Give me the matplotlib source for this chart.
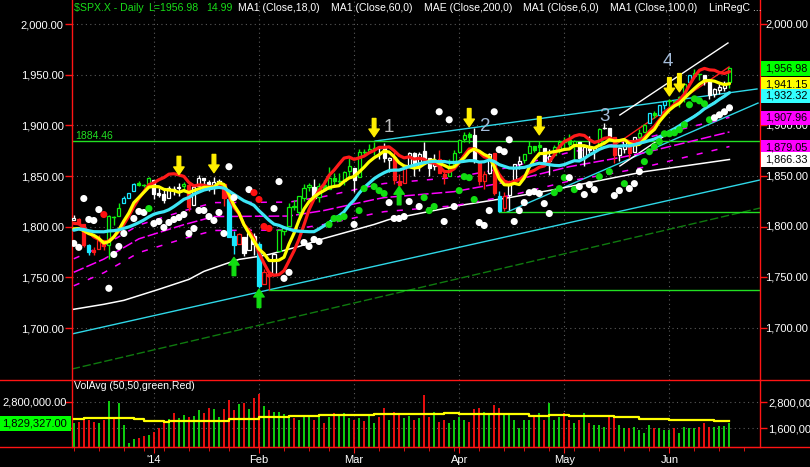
import numpy as np
import matplotlib
matplotlib.use("Agg")
import matplotlib.pyplot as plt
from matplotlib.patches import Rectangle
from matplotlib.lines import Line2D

plt.rcParams['font.family'] = ['Liberation Sans', 'DejaVu Sans']

W, H = 810, 467

# ---------------- data ----------------
# closes of the 17 sessions before the first visible bar (needed by the indicators)
history_close = [1782.00, 1790.62, 1798.18, 1791.53, 1787.87, 1781.37, 1795.85, 1804.76, 1802.48,
                 1802.75, 1807.23, 1805.81, 1800.90, 1795.15, 1792.81, 1785.03, 1805.09]

# daily bars Dec 9 2013 .. Jun 18 2014
opens = [1806.6, 1807.6, 1802.8, 1781.7, 1777.0, 1777.5, 1786.5, 1781.5, 1809.0, 1810.4,
         1822.9, 1828.0, 1835.0, 1843.0, 1841.5, 1842.6, 1845.9, 1833.2, 1832.3, 1828.7,
         1837.9, 1839.0, 1840.1, 1841.3, 1821.4, 1840.5, 1848.0, 1844.2, 1841.1, 1844.7,
         1842.3, 1827.0, 1791.0, 1783.0, 1790.2, 1777.2, 1790.9, 1782.7, 1743.8, 1753.4,
         1753.0, 1776.0, 1796.2, 1800.5, 1820.1, 1814.8, 1828.5, 1839.0, 1838.9, 1829.2,
         1841.1, 1836.8, 1847.7, 1845.8, 1844.9, 1855.1, 1857.7, 1849.2, 1874.1, 1874.2,
         1878.5, 1877.9, 1878.3, 1866.2, 1869.1, 1845.1, 1842.8, 1858.9, 1872.3, 1860.1,
         1874.5, 1867.7, 1859.5, 1867.1, 1852.1, 1850.1, 1859.2, 1874.0, 1886.6, 1891.4,
         1890.3, 1863.9, 1845.5, 1852.6, 1872.3, 1830.7, 1818.2, 1831.5, 1846.0, 1861.7,
         1865.8, 1872.6, 1879.3, 1881.0, 1877.7, 1865.0, 1870.8, 1877.1, 1884.4, 1885.3,
         1879.5, 1883.7, 1868.5, 1877.4, 1875.3, 1880.0, 1896.8, 1897.1, 1888.2, 1871.2,
         1876.7, 1884.9, 1873.3, 1888.2, 1893.3, 1902.0, 1911.8, 1910.6, 1920.3, 1923.9,
         1923.1, 1923.1, 1928.5, 1942.4, 1949.0, 1950.3, 1949.4, 1943.4, 1930.8, 1934.8,
         1937.2, 1942.7]
highs = [1811.5, 1808.5, 1803.0, 1783.0, 1780.0, 1792.2, 1786.8, 1811.1, 1810.9, 1823.8,
         1829.8, 1833.3, 1842.8, 1844.9, 1842.5, 1849.4, 1845.9, 1838.2, 1837.2, 1840.1,
         1840.0, 1843.2, 1843.8, 1843.5, 1839.3, 1850.8, 1848.0, 1846.0, 1849.3, 1846.9,
         1842.3, 1827.0, 1796.0, 1793.9, 1790.2, 1798.8, 1793.9, 1784.8, 1758.7, 1755.8,
         1774.1, 1798.0, 1799.9, 1823.5, 1826.6, 1830.3, 1841.7, 1842.9, 1847.5, 1842.8,
         1846.1, 1858.7, 1852.9, 1852.7, 1854.5, 1867.9, 1857.7, 1876.2, 1876.5, 1881.9,
         1883.6, 1877.9, 1882.4, 1868.4, 1874.4, 1852.4, 1862.3, 1873.8, 1874.1, 1873.5,
         1884.0, 1867.9, 1871.9, 1875.9, 1855.6, 1866.6, 1875.2, 1885.8, 1893.2, 1893.8,
         1897.3, 1864.0, 1855.0, 1872.4, 1872.5, 1835.1, 1834.2, 1844.0, 1862.3, 1869.6,
         1871.9, 1884.9, 1879.8, 1884.1, 1877.7, 1877.0, 1880.6, 1885.2, 1888.6, 1891.3,
         1885.5, 1883.7, 1878.8, 1889.1, 1878.6, 1897.1, 1902.2, 1897.1, 1888.2, 1878.3,
         1886.0, 1884.9, 1888.8, 1896.3, 1901.3, 1912.3, 1914.5, 1920.0, 1924.0, 1925.9,
         1925.1, 1928.6, 1941.7, 1949.4, 1955.6, 1950.9, 1949.4, 1943.4, 1937.3, 1941.2,
         1943.7, 1957.7]
lows = [1806.6, 1801.4, 1780.1, 1772.3, 1772.4, 1777.5, 1777.2, 1768.0, 1801.4, 1810.3,
        1822.9, 1828.0, 1835.0, 1839.8, 1838.8, 1842.4, 1827.7, 1829.1, 1823.7, 1828.7,
        1831.4, 1830.4, 1834.4, 1815.5, 1821.4, 1840.5, 1840.3, 1835.2, 1832.4, 1840.9,
        1820.1, 1790.3, 1772.9, 1783.0, 1771.0, 1777.2, 1772.3, 1739.7, 1743.8, 1737.9,
        1753.0, 1776.0, 1791.8, 1800.5, 1816.0, 1809.2, 1825.6, 1835.0, 1827.0, 1824.6,
        1835.6, 1836.8, 1840.2, 1840.7, 1841.1, 1847.7, 1834.4, 1849.2, 1871.6, 1874.2,
        1870.6, 1867.0, 1863.9, 1854.4, 1841.9, 1839.6, 1842.8, 1858.9, 1850.4, 1854.6,
        1863.5, 1849.7, 1856.0, 1852.6, 1842.1, 1850.1, 1859.2, 1874.0, 1883.8, 1882.7,
        1863.3, 1841.5, 1837.5, 1852.4, 1830.9, 1814.4, 1815.8, 1816.3, 1846.0, 1856.7,
        1863.2, 1872.6, 1873.9, 1870.2, 1859.7, 1850.6, 1870.8, 1872.7, 1878.0, 1878.5,
        1866.8, 1867.7, 1859.8, 1872.5, 1867.0, 1880.0, 1896.1, 1885.8, 1862.4, 1864.8,
        1872.4, 1868.1, 1873.3, 1885.4, 1893.3, 1902.0, 1907.3, 1909.8, 1916.6, 1916.0,
        1918.8, 1918.6, 1922.9, 1942.4, 1947.2, 1944.6, 1940.1, 1925.8, 1927.7, 1930.9,
        1933.6, 1937.2]
closes = [1808.37, 1802.62, 1782.22, 1775.50, 1775.32, 1786.54, 1781.00, 1810.65, 1809.60, 1818.32,
          1827.99, 1833.32, 1842.02, 1841.40, 1841.07, 1848.36, 1831.98, 1831.37, 1826.77, 1837.88,
          1837.49, 1838.13, 1842.37, 1819.20, 1838.88, 1848.38, 1845.89, 1838.70, 1843.80, 1844.86,
          1828.46, 1790.29, 1781.56, 1792.50, 1774.20, 1794.19, 1782.59, 1741.89, 1755.20, 1751.64,
          1773.43, 1797.02, 1799.84, 1819.75, 1819.26, 1829.83, 1838.63, 1840.76, 1828.75, 1839.78,
          1836.25, 1847.61, 1845.12, 1845.16, 1854.29, 1859.45, 1845.73, 1873.91, 1873.81, 1877.03,
          1878.04, 1877.17, 1867.63, 1868.20, 1846.34, 1841.13, 1858.83, 1872.25, 1860.77, 1872.01,
          1866.52, 1857.44, 1865.62, 1852.56, 1849.04, 1857.62, 1872.34, 1885.52, 1890.90, 1888.77,
          1865.09, 1845.04, 1851.96, 1872.18, 1833.08, 1815.69, 1830.61, 1842.98, 1862.31, 1864.85,
          1871.89, 1879.55, 1875.39, 1878.61, 1863.40, 1869.43, 1878.33, 1883.95, 1883.68, 1881.14,
          1884.66, 1867.72, 1878.21, 1875.63, 1878.48, 1896.65, 1897.45, 1888.53, 1870.85, 1877.86,
          1885.08, 1872.83, 1888.03, 1892.49, 1900.53, 1911.91, 1909.78, 1920.03, 1923.57, 1924.97,
          1924.24, 1927.88, 1940.46, 1949.44, 1951.27, 1950.79, 1943.89, 1930.11, 1936.16, 1937.78,
          1941.99, 1956.98]
# bar colour state as painted by the platform: g=green, r=red, w=white, c=cyan
bar_state = ("wrrcrrrgggcccggg"
             "wwwwwwgrwwwwwwrccrwww"
             "crrwgggggggwggggggg"
             "wggggwwwrrrwwwwwwrrgg"
             "gggwrrwrcrwwwggggwwgg"
             "gggwwwwgwwrwwrwggcgcc"
             "ggggcggwwwwwg")

volume_millions = [1.86, 1.91, 1.98, 1.98, 1.91, 1.86, 1.98, 2.86, 2.01, 2.78,
                   1.75, 0.91, 1.11, 1.14, 1.26, 1.29, 1.45, 1.60, 1.91, 2.01,
                   2.29, 2.09, 2.21, 2.14, 2.17, 2.45, 2.29, 2.52, 2.48, 2.14,
                   2.48, 2.91, 2.45, 2.71, 2.78, 2.48, 2.98, 3.18, 2.63, 2.45,
                   2.37, 2.37, 2.25, 2.14, 2.06, 1.98, 2.11, 2.14, 1.98, 2.21,
                   1.83, 2.14, 2.29, 2.17, 2.32, 2.06, 1.98, 2.06, 1.95, 2.21,
                   1.83, 2.14, 2.52, 1.98, 2.37, 2.29, 2.06, 2.17, 1.98, 2.06,
                   3.14, 2.14, 2.37, 1.91, 1.98, 1.83, 1.98, 2.14, 1.98, 1.91,
                   2.48, 2.52, 2.37, 2.21, 2.67, 2.52, 2.32, 2.25, 1.98, 1.60,
                   1.98, 1.98, 2.14, 2.29, 1.98, 2.75, 1.98, 2.14, 2.29, 1.98,
                   1.83, 1.98, 2.29, 1.83, 1.75, 1.75, 1.67, 2.14, 2.14, 1.75,
                   1.60, 1.60, 1.67, 1.52, 1.37, 1.75, 1.60, 1.60, 1.52, 1.52,
                   1.60, 1.37, 1.67, 1.60, 1.60, 1.67, 1.83, 1.67, 1.67, 1.71,
                   1.71, 1.83]
volavg_bar = [0, 2, 11, 12, 14, 18, 19, 31, 37, 43, 49, 60, 64, 74, 77, 91, 95, 99, 108, 113, 119, 128, 131]
volavg_millions = [2.03, 2.06, 2.06, 2.01, 1.95, 1.91, 1.95, 2.01, 2.11, 2.17, 2.20, 2.25, 2.28,
                   2.31, 2.28, 2.18, 2.21, 2.15, 2.11, 2.05, 1.98, 1.92, 1.92]
last_volume_label = 1829327.00

# slow lines
ma100_bar = [0, 6, 10, 17, 23, 26, 30, 33, 37, 39, 45, 50, 60, 63, 77, 87, 96, 104, 114, 131]
ma100_val = [1718.5, 1723.4, 1727.3, 1738.2, 1748.0, 1755.9, 1762.8, 1767.7, 1770.7, 1772.6,
             1780.5, 1788.4, 1802.2, 1807.1, 1820.9, 1828.7, 1836.6, 1844.5, 1854.3, 1866.3]
env_bar = [0, 6, 13, 22, 28, 43, 50, 60, 62, 76, 87, 99, 109, 114, 131]
env_mid = [1755.0, 1768.0, 1788.0, 1802.0, 1810.0, 1810.5, 1816.0, 1826.8, 1828.7, 1834.6,
           1844.5, 1859.2, 1868.1, 1873.0, 1893.5]
env_pct = 0.0076

# indicator dots
dot_bar = [0, 1, 2, 3, 4, 5, 6, 7, 8, 9, 10, 12, 13, 14, 15, 16, 17, 18, 19, 20, 21, 22, 23, 24, 25,
           26, 27, 28, 29, 30, 31, 32, 35, 36, 37, 38, 39, 40, 41, 42, 43, 46, 47, 48, 49, 51, 52, 53,
           54, 56, 57, 58, 60, 61, 62, 63, 64, 65, 66, 67, 69, 70, 71, 72, 73, 74, 75, 76, 77, 78, 79,
           80, 81, 82, 83, 84, 85, 86, 87, 88, 89, 90, 91, 92, 93, 94, 95, 96, 97, 98, 99, 100, 101,
           102, 103, 104, 105, 107, 108, 109, 110, 111, 112, 113, 114, 115, 116, 117, 118, 119, 120,
           121, 122, 123, 124, 125, 126, 127, 128, 129, 130, 131]
dot_val = [1783.5, 1779.6, 1827.8, 1807.1, 1806.1, 1816.9, 1812.0, 1739.2, 1772.6, 1780.5, 1793.3,
           1808.1, 1815.0, 1814.0, 1817.9, 1803.1, 1805.1, 1799.2, 1804.1, 1807.1, 1809.0, 1812.0,
           1793.3, 1798.2, 1816.0, 1816.0, 1810.0, 1806.1, 1814.0, 1793.3, 1859.2, 1828.7, 1836.6,
           1833.6, 1826.8, 1800.2, 1798.2, 1817.9, 1844.5, 1749.0, 1754.9, 1784.4, 1780.5, 1787.4,
           1785.4, 1802.2, 1808.1, 1808.1, 1810.0, 1802.2, 1815.9, 1837.6, 1839.6, 1835.6, 1832.7,
           1823.8, 1808.1, 1808.1, 1810.0, 1824.8, 1819.9, 1828.7, 1815.9, 1819.9, 1913.4, 1805.1,
           1905.5, 1819.9, 1835.6, 1849.4, 1848.4, 1826.8, 1804.1, 1801.2, 1815.9, 1913.4, 1876.0,
           1874.0, 1885.8, 1805.1, 1815.9, 1823.8, 1833.6, 1834.6, 1832.7, 1822.8, 1813.0, 1833.6,
           1837.6, 1848.4, 1848.4, 1836.6, 1839.6, 1831.7, 1841.5, 1836.6, 1849.4, 1854.3, 1830.7,
           1835.6, 1842.5, 1837.6, 1842.5, 1854.3, 1864.2, 1874.0, 1878.9, 1883.9, 1891.7, 1891.7,
           1892.7, 1895.7, 1900.6, 1920.3, 1926.2, 1924.2, 1921.3, 1905.5, 1907.5, 1910.4, 1913.4,
           1917.3]
dot_kind = ("wwwwwwrwwww" "www" "g" "wwwwwwwwwwwwwwwww" "w" "rrrr" "wwww" "wwww" "gggg"
            "w" "gg" "ggg" "wwwww" "w" "ggg" "wwww" "gggg" "wwwwwwwwwwwwwww" "ggg" "w" "g"
            "wwww" "g" "g" "ww" "g" "www" "gggggggggggggg" "wwww")

# signal arrows (bar, tip price)
down_arrows = [(21, 1851.4), (28, 1853.3), (60, 1888.8), (79, 1898.6), (93, 1890.7), (119, 1929.1), (121, 1933.1)]
up_arrows = [(32, 1769.7), (37, 1738.2), (65, 1839.6)]
wave_labels = [("1", 62.9, 1897.6, '#bdbdbd'), ("2", 82.2, 1899.3, '#a4bcd9'),
               ("3", 106.1, 1909.0, '#a4bcd9'), ("4", 118.7, 1963.0, '#a4bcd9')]

# drawn trend lines: (bar0, price0, bar1, price1, colour, style)
trend_lines = [(60.2, 1884.5, 136.5, 1935.9, '#2fd8e8', '-'),
               (86.6, 1814.5, 136.7, 1922.0, '#2fd8e8', '-'),
               (-0.4, 1694.1, 137.1, 1846.1, '#2fd8e8', '-'),
               (-0.4, 1659.5, 137.1, 1818.4, '#0f7a0f', (0, (6, 2))),
               (109.1, 1910.2, 130.7, 1981.3, '#ffffff', '-'),
               (109.1, 1859.9, 130.7, 1931.9, '#ffffff', '-'),
               (108.1, 1880.6, 130.9, 1957.6, '#ff2020', '-')]
h_lines = [(-0.4, 1884.46), (39, 1737.9), (85, 1814.4)]

month_labels = ["'14", "Feb", "Mar", "Apr", "May", "Jun"]
month_bar = [16, 37, 56, 77, 98, 119]
week_bar = [0, 5, 10, 14, 18, 23, 27, 31, 37, 42, 47, 51, 56, 61, 66, 71, 76, 81, 86, 90, 95, 100,
            105, 110, 115, 119, 124, 129, 134]
price_ticks = [1700, 1750, 1800, 1850, 1900, 1950, 2000]
# right-scale labels left visible by the last-value boxes
right_price_labels = [1700, 1750, 1800, 1850, 1900, 2000]
volume_ticks = [1.6e6, 2.8e6]

header = [("$SPX.X - Daily", 74, '#19dd19'), ("L=1956.98", 148, '#19dd19'), ("14.99", 206.5, '#19dd19'),
          ("MA1 (Close,18,0)", 238.5, 'white'), ("MA1 (Close,60,0)", 331, 'white'),
          ("MAE (Close,200,0)", 424, 'white'), ("MA1 (Close,6,0)", 523, 'white'),
          ("MA1 (Close,100,0)", 610, 'white'), ("LinRegC ...", 709, 'white')]

# ---------------- indicators ----------------
n = len(closes)
assert len(opens) == n and len(highs) == n and len(lows) == n and len(bar_state) == n
assert len(volume_millions) == n and len(dot_bar) == len(dot_val) == len(dot_kind)
allc = np.array(history_close + closes)
nh = len(history_close)
xs = np.arange(n)


def sma(p):
    return np.array([allc[nh + i - p + 1:nh + i + 1].mean() for i in range(n)])


def linreg_curve(p):
    out = []
    t = np.arange(p)
    for i in range(n):
        seg = allc[nh + i - p + 1:nh + i + 1]
        k, b = np.polyfit(t, seg, 1)
        out.append(k * (p - 1) + b)
    return np.array(out)


ma6 = sma(6)
ma18 = sma(18)
lrc = linreg_curve(18)

# ---------------- figure ----------------
BG = 'black'
RED = '#ff1414'
fig = plt.figure(figsize=(W / 100, H / 100), dpi=100, facecolor=BG)
ax = fig.add_axes([72 / W, (H - 380) / H, 688 / W, 380 / H], facecolor=BG)
axv = fig.add_axes([72 / W, (H - 447) / H, 688 / W, 67 / H], facecolor=BG, sharex=ax)

XL = (-0.36, 137.1)
ax.set_xlim(*XL)
ax.set_ylim(1648.7, 2023.7)
axv.set_ylim(0.737e6, 3.83e6)

grid_kw = dict(color='#5a5a5a', linestyle=(0, (1, 3)), linewidth=0.8)
for a in (ax, axv):
    for s in ('left', 'right'):
        a.spines[s].set_color(RED)
        a.spines[s].set_linewidth(1.0)
    a.set_axisbelow(True)
ax.spines['top'].set_visible(False)
ax.spines['bottom'].set_visible(False)
axv.spines['top'].set_visible(False)
axv.spines['bottom'].set_color(RED)

fmt = lambda v: f"{v:,.2f}"
ax.set_yticks(price_ticks)
ax.set_yticklabels([fmt(v) for v in price_ticks])
ax.tick_params(axis='y', which='both', left=True, right=True, labelleft=True, labelright=False,
               color=RED, labelcolor='white', length=5, width=1, labelsize=8, pad=1)
for v in right_price_labels:
    ax.text(1.0075, v, fmt(v), transform=ax.get_yaxis_transform(), color='white', fontsize=8,
            ha='left', va='center', clip_on=False)
ax.set_xticks(month_bar)
ax.tick_params(axis='x', length=0, labelbottom=False)
ax.grid(True, **grid_kw)

axv.set_yticks(volume_ticks)
axv.set_yticklabels([fmt(v) for v in volume_ticks])
axv.tick_params(axis='y', left=True, right=True, labelleft=False, labelright=True,
                color=RED, labelcolor='white', length=5, width=1, labelsize=8, pad=1)
axv.set_xticks(month_bar)
axv.set_xticklabels(month_labels)
axv.set_xticks(week_bar, minor=True)
axv.tick_params(axis='x', which='both', color=RED, labelcolor='white', labelsize=8, pad=2)
axv.tick_params(axis='x', which='major', length=4)
axv.tick_params(axis='x', which='minor', length=3)
axv.grid(True, axis='y', **grid_kw)
axv.grid(True, axis='x', which='major', **grid_kw)
# left volume label (the lower one sits under the last-value box in the original)
axv.text(-0.0075, volume_ticks[1], fmt(volume_ticks[1]), transform=axv.get_yaxis_transform(),
         color='white', fontsize=8, ha='right', va='center')

# trend lines and horizontal levels
for b0, p0, b1, p1, c, ls in trend_lines:
    ax.plot([b0, b1], [p0, p1], color=c, lw=1.0, ls=ls, zorder=2)
for b0, lv in h_lines:
    ax.plot([b0, XL[1]], [lv, lv], color='#22e022', lw=1.0, zorder=2)
ax.text(0.3, 1889.5, "1884.46", color='#22e022', fontsize=7.5, ha='left', va='center', zorder=3)

# slow lines
ax.plot(ma100_bar, ma100_val, color='white', lw=1.1, zorder=3)
env_mid_a = np.array(env_mid)
ax.plot(env_bar, env_mid_a, color='#ff00ff', lw=1.1, ls=(0, (7, 2)), zorder=3)
ax.plot(env_bar, env_mid_a * (1 + env_pct), color='#ff00ff', lw=1.1, ls=(0, (4, 6)), zorder=3)
ax.plot(env_bar, env_mid_a * (1 - env_pct), color='#ff00ff', lw=1.1, ls=(0, (4, 6)), zorder=3)

# candles
ccol = {'g': '#10ee10', 'r': '#ff1a1a', 'w': '#ffffff', 'c': '#18e8ff'}
bw = 0.62
for i in range(n):
    o, h, l, c = opens[i], highs[i], lows[i], closes[i]
    col = ccol[bar_state[i]]
    ax.plot([i, i], [l, h], color=col, lw=1.0, zorder=4, solid_capstyle='butt')
    lo, hi = min(o, c), max(o, c)
    if hi - lo < 0.8:
        ax.plot([i - bw / 2, i + bw / 2], [c, c], color=col, lw=1.0, zorder=4)
    else:
        filled = c < o
        ax.add_patch(Rectangle((i - bw / 2, lo), bw, hi - lo, facecolor=col if filled else BG,
                               edgecolor=col, lw=0.9, zorder=4))

# fast indicators
ax.plot(xs, lrc, color='#ff1a1a', lw=2.3, zorder=5, solid_capstyle='round')
ax.plot(xs, ma6, color='#ffff00', lw=2.3, zorder=5, solid_capstyle='round')
ax.plot(xs, ma18, color='#3de6f5', lw=2.3, zorder=5, solid_capstyle='round')

# dots
dcol = {'w': '#ffffff', 'g': '#11dd11', 'r': '#ff1010'}
ax.scatter(dot_bar, dot_val, s=26, c=[dcol[k] for k in dot_kind], edgecolors='none', zorder=6)

# arrows
AL = 18.0
for b, p in down_arrows:
    ax.annotate('', xy=(b, p), xytext=(b, p + AL),
                arrowprops=dict(facecolor='#ffee00', edgecolor='#ffee00', width=2.6, headwidth=7.5,
                                headlength=5.5, shrink=0), zorder=7)
for b, p in up_arrows:
    ax.annotate('', xy=(b, p), xytext=(b, p - AL),
                arrowprops=dict(facecolor='#11dd11', edgecolor='#11dd11', width=2.6, headwidth=7.5,
                                headlength=5.5, shrink=0), zorder=7)
for t, b, p, c in wave_labels:
    ax.text(b, p, t, color=c, fontsize=13.5, ha='center', va='center', zorder=7)

# volume
vol = np.array(volume_millions) * 1e6
prev = np.array([history_close[-1]] + closes[:-1])
vcol = np.where(np.array(closes) >= prev, '#10e010', '#ff1010')
axv.vlines(xs, 0.737e6, vol, colors=vcol, lw=1.3, zorder=3)
axv.plot(volavg_bar, np.array(volavg_millions) * 1e6, color='#ffff00', lw=1.6,
         drawstyle='steps-post', zorder=4)

# frame lines across the full width
for yp in (380, 447):
    fig.add_artist(Line2D([0, 1], [(H - yp) / H] * 2, transform=fig.transFigure, color=RED, lw=1.0))

# header texts
for t, xp, c in header:
    fig.text(xp / W, (H - 8) / H, t, color=c, fontsize=7.6, ha='left', va='center')
fig.text(74 / W, (H - 386) / H, "VolAvg (50,50,green,Red)", color='white', fontsize=7.6,
         ha='left', va='center')

# last-value boxes on the price scale (stacked as the platform does)
inv = fig.transFigure.inverted()


def fig_y(a, v):
    return inv.transform(a.transData.transform((0, v)))[1]


last_values = [(1956.98, '#00ff00'), (1941.15, '#ffff00'), (ma18[-1], '#33ffff'),
               (1907.96, '#ff00ff'), (1879.05, '#ff00ff'), (1866.33, '#ffffff')]
stack_shift_px = [0.8, 1.0, 3.2, 0.6, 0.8, 0.0]
bh = 14.5 / H
for (v, c), sh in zip(last_values, stack_shift_px):
    yc = fig_y(ax, v) - sh / H
    fig.add_artist(Rectangle((761 / W, yc - bh / 2), 49 / W, bh, transform=fig.transFigure,
                             facecolor=c, edgecolor='none', zorder=4))
    fig.text(765 / W, yc, fmt(v), color='black', fontsize=7.8, ha='left', va='center', zorder=5)

yc = fig_y(axv, last_volume_label)
fig.add_artist(Rectangle((0, yc - bh / 2), 71 / W, bh, transform=fig.transFigure,
                         facecolor='#00ff00', edgecolor='none', zorder=4))
fig.text(67 / W, yc, fmt(last_volume_label), color='black', fontsize=8, ha='right', va='center', zorder=5)

fig.savefig("out.png", dpi=100, facecolor=BG)
